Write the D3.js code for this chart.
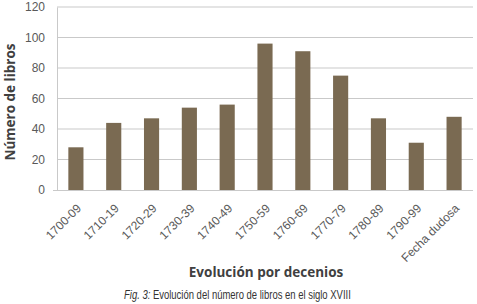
<!DOCTYPE html>
<html>
<head>
<meta charset="utf-8">
<script src="https://cdn.jsdelivr.net/npm/d3@7"></script>
<style>
  body { margin: 0; background: #fff; }
  svg { display: block; }
</style>
</head>
<body>
<div id="chart"></div>
<script>
let decenios = ["1700-09", "1710-19", "1720-29", "1730-39", "1740-49", "1750-59",
                "1760-69", "1770-79", "1780-89", "1790-99", "Fecha dudosa"];
let libros = [28, 44, 47, 54, 56, 96, 91, 75, 47, 31, 48];
let ticksY = [0, 20, 40, 60, 80, 100, 120];

let margin = {top: 7, right: 4, bottom: 114, left: 57},
    width = 477 - margin.left - margin.right,
    height = 304 - margin.top - margin.bottom;

let svg = d3.select("#chart")
    .append("svg")
    .attr("width", 477)
    .attr("height", 304);

let g = svg.append("g")
    .attr("transform", "translate(" + margin.left + "," + margin.top + ")");

let x = d3.scaleBand()
    .domain(decenios)
    .range([0, width])
    .paddingInner(0.6)
    .paddingOuter(0.3);

let y = d3.scaleLinear()
    .domain([0, 120])
    .range([height, 0]);

// rejilla
g.append("g")
    .selectAll("line")
    .data(ticksY.slice(1))
    .enter()
    .append("line")
    .attr("x1", 0)
    .attr("x2", width)
    .attr("y1", d => y(d))
    .attr("y2", d => y(d))
    .style("stroke", "#c9c9c9")
    .style("stroke-width", 1);

// eje y
let ejeY = g.append("g")
    .call(d3.axisLeft(y).tickValues(ticksY).tickSize(0).tickPadding(12));
ejeY.select(".domain").style("stroke", "#c9c9c9");
ejeY.selectAll("text")
    .style("font-family", "Liberation Sans, Arial, sans-serif")
    .style("font-size", "12px")
    .style("fill", "#595959");

// barras
g.append("g")
    .selectAll("rect")
    .data(libros)
    .enter()
    .append("rect")
    .attr("x", (d, i) => x(decenios[i]))
    .attr("y", d => y(d))
    .attr("width", x.bandwidth())
    .attr("height", d => height - y(d))
    .style("fill", "#7a6a52");

// eje x
let ejeX = g.append("g")
    .attr("transform", "translate(0," + height + ")")
    .call(d3.axisBottom(x).tickSize(0).tickPadding(0));
ejeX.select(".domain")
    .attr("d", "M-4,0.5H" + width)
    .style("stroke", "#c9c9c9");
ejeX.selectAll("text")
    .attr("text-anchor", "end")
    .attr("dy", 0)
    .attr("transform", "translate(6,19) rotate(-45)")
    .style("font-family", "Liberation Sans, Arial, sans-serif")
    .style("font-size", "12px")
    .style("fill", "#595959");

// titulos
svg.append("text")
    .attr("x", 266)
    .attr("y", 277)
    .attr("text-anchor", "middle")
    .style("font-family", "Open Sans, sans-serif")
    .style("font-weight", "bold")
    .style("font-size", "13.5px")
    .style("fill", "#404040")
    .text("Evolución por decenios");

svg.append("text")
    .attr("transform", "translate(15,102) rotate(-90)")
    .attr("text-anchor", "middle")
    .style("font-family", "Open Sans, sans-serif")
    .style("font-weight", "bold")
    .style("font-size", "13.5px")
    .style("fill", "#404040")
    .text("Número de libros");

// pie de figura, letra estrecha (se comprime en horizontal)
let pie = svg.append("g")
    .attr("transform", "translate(124,299) scale(0.79,1)")
    .append("text")
    .attr("x", 0)
    .attr("y", 0)
    .style("font-family", "Liberation Sans, Arial, sans-serif")
    .style("font-size", "12px")
    .style("fill", "#333");
pie.append("tspan").style("font-style", "italic").text("Fig. 3:");
pie.append("tspan").text(" Evolución del número de libros en el siglo XVIII");
</script>
</body>
</html>
